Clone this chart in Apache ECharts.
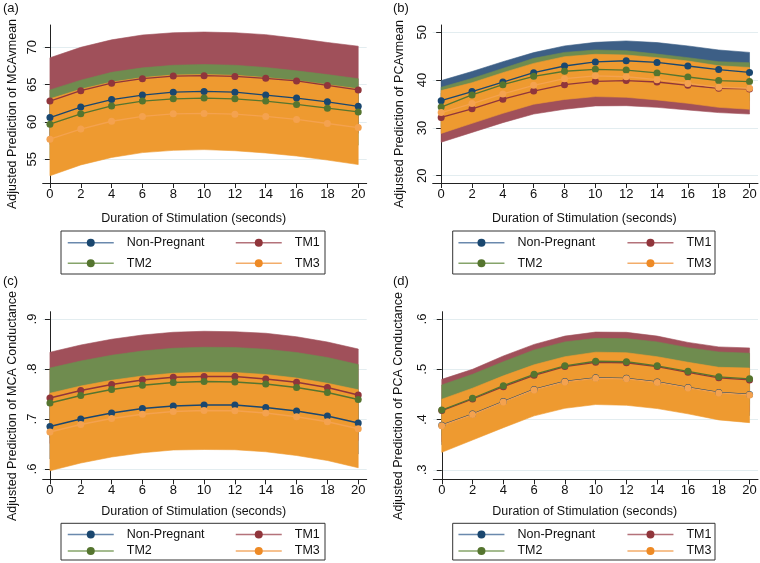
<!DOCTYPE html>
<html><head><meta charset="utf-8">
<script src="https://cdn.jsdelivr.net/npm/echarts@6/dist/echarts.min.js"></script>
<style>html,body{margin:0;padding:0;background:#fff}#c{width:760px;height:563px}</style>
</head><body><div id="c"></div>
<script>
// ---------- data ----------
const seconds = [0, 2, 4, 6, 8, 10, 12, 14, 16, 18, 20];
const xTicks = [0, 2, 4, 6, 8, 10, 12, 14, 16, 18, 20];
const groupNames = ['Non-Pregnant', 'TM1', 'TM2', 'TM3'];

// (a) MCAvmean
const aTicks = [55, 60, 65, 70];
const aNP = [60.6, 62.0, 63.0, 63.6, 64.0, 64.1, 64.0, 63.6, 63.2, 62.7, 62.1];
const aNPlo = [57.9, 59.5, 60.6, 61.3, 61.7, 61.8, 61.7, 61.3, 60.8, 60.2, 59.5];
const aNPhi = [62.9, 64.2, 65.1, 65.7, 66.1, 66.2, 66.1, 65.7, 65.3, 64.8, 64.3];
const aTM1 = [62.8, 64.2, 65.2, 65.8, 66.15, 66.2, 66.1, 65.85, 65.5, 64.9, 64.3];
const aTM1lo = [57.0, 58.4, 59.4, 60.0, 60.35, 60.4, 60.3, 60.0, 59.8, 59.2, 58.5];
const aTM1hi = [68.6, 70.0, 71.0, 71.65, 71.95, 72.05, 71.95, 71.7, 71.2, 70.65, 70.15];
const aTM2 = [59.7, 61.1, 62.15, 62.8, 63.1, 63.2, 63.1, 62.8, 62.35, 61.85, 61.35];
const aTM2lo = [55.1, 56.6, 57.65, 58.35, 58.6, 58.7, 58.6, 58.3, 57.85, 57.35, 56.9];
const aTM2hi = [64.3, 65.6, 66.65, 67.25, 67.6, 67.7, 67.6, 67.3, 66.85, 66.35, 65.8];
const aTM3 = [57.7, 59.05, 60.1, 60.75, 61.1, 61.15, 61.05, 60.75, 60.35, 59.8, 59.25];
const aTM3lo = [52.8, 54.25, 55.25, 55.9, 56.2, 56.3, 56.15, 55.85, 55.45, 54.9, 54.3];
const aTM3hi = [63.1, 64.4, 65.35, 65.95, 66.3, 66.35, 66.25, 65.95, 65.55, 65.0, 64.45];

// (b) PCAvmean
const bTicks = [20, 30, 40, 50];
const bNP = [35.7, 37.6, 39.6, 41.55, 42.95, 43.8, 44.05, 43.7, 42.95, 42.2, 41.6];
const bNPlo = [31.5, 33.4, 35.4, 37.4, 38.8, 39.7, 39.9, 39.6, 38.8, 38.1, 37.4];
const bNPhi = [39.9, 41.8, 43.85, 45.75, 47.15, 47.9, 48.2, 47.85, 47.15, 46.3, 45.8];
const bTM1 = [32.2, 34.0, 36.0, 37.7, 39.05, 39.75, 39.9, 39.6, 38.9, 38.3, 38.15];
const bTM1lo = [27.0, 29.05, 31.1, 32.9, 33.9, 34.6, 34.65, 34.3, 33.75, 33.2, 32.9];
const bTM1hi = [37.3, 38.9, 40.8, 42.4, 43.9, 44.6, 44.8, 44.5, 43.8, 42.9, 42.6];
const bTM2 = [34.35, 36.9, 39.05, 40.8, 41.85, 42.25, 42.1, 41.5, 40.65, 39.9, 39.7];
const bTM2lo = [30.2, 33.4, 35.6, 37.0, 37.9, 38.2, 38.05, 37.5, 36.6, 35.9, 35.7];
const bTM2hi = [38.5, 40.35, 42.45, 44.55, 45.8, 46.3, 46.15, 45.45, 44.7, 43.85, 43.65];
const bTM3 = [33.2, 35.1, 37.1, 38.9, 40.3, 40.9, 40.7, 40.1, 39.3, 38.5, 38.3];
const bTM3lo = [28.85, 30.95, 33.05, 34.95, 35.95, 36.55, 36.4, 35.85, 35.15, 34.3, 33.9];
const bTM3hi = [37.8, 39.45, 41.55, 43.5, 44.9, 45.4, 45.25, 44.7, 44.0, 43.0, 42.65];

// (c) MCA Conductance
const cTicks = [0.6, 0.7, 0.8, 0.9];
const cNP = [0.685, 0.700, 0.712, 0.721, 0.726, 0.728, 0.728, 0.723, 0.716, 0.706, 0.692];
const cNPlo = [0.62, 0.64, 0.65, 0.66, 0.665, 0.667, 0.667, 0.662, 0.655, 0.645, 0.63];
const cNPhi = [0.745, 0.76, 0.772, 0.78, 0.785, 0.787, 0.787, 0.783, 0.775, 0.765, 0.752];
const cTM1 = [0.742, 0.757, 0.769, 0.778, 0.7835, 0.785, 0.785, 0.780, 0.7735, 0.763, 0.748];
const cTM1lo = [0.651, 0.666, 0.678, 0.688, 0.693, 0.695, 0.695, 0.689, 0.682, 0.672, 0.657];
const cTM1hi = [0.8335, 0.848, 0.8595, 0.868, 0.8735, 0.8755, 0.8745, 0.8715, 0.8645, 0.854, 0.840];
const cTM2 = [0.732, 0.747, 0.759, 0.7675, 0.773, 0.775, 0.774, 0.770, 0.763, 0.753, 0.739];
const cTM2lo = [0.662, 0.678, 0.690, 0.699, 0.704, 0.706, 0.705, 0.70, 0.693, 0.683, 0.669];
const cTM2hi = [0.802, 0.816, 0.8275, 0.836, 0.8415, 0.8435, 0.843, 0.8395, 0.833, 0.823, 0.809];
const cTM3 = [0.674, 0.689, 0.701, 0.7095, 0.715, 0.717, 0.7165, 0.712, 0.7045, 0.6945, 0.6805];
const cTM3lo = [0.5965, 0.612, 0.624, 0.6325, 0.638, 0.639, 0.6385, 0.6345, 0.627, 0.617, 0.6025];
const cTM3hi = [0.7515, 0.766, 0.7775, 0.786, 0.7915, 0.7935, 0.793, 0.789, 0.782, 0.7715, 0.7585];

// (d) PCA Conductance
const dTicks = [0.3, 0.4, 0.5, 0.6];
const dNP = [0.389, 0.411, 0.436, 0.460, 0.476, 0.483, 0.482, 0.475, 0.464, 0.454, 0.450];
const dNPlo = [0.35, 0.37, 0.395, 0.42, 0.437, 0.445, 0.444, 0.436, 0.424, 0.412, 0.408];
const dNPhi = [0.428, 0.451, 0.477, 0.500, 0.515, 0.521, 0.52, 0.514, 0.504, 0.496, 0.492];
const dTM1 = [0.418, 0.441, 0.4655, 0.488, 0.5055, 0.514, 0.513, 0.5055, 0.494, 0.483, 0.479];
const dTM1lo = [0.356, 0.382, 0.405, 0.427, 0.445, 0.454, 0.453, 0.445, 0.434, 0.422, 0.416];
const dTM1hi = [0.480, 0.500, 0.5265, 0.5495, 0.566, 0.574, 0.5735, 0.566, 0.5535, 0.5445, 0.5425];
const dTM2 = [0.419, 0.4425, 0.4675, 0.490, 0.507, 0.516, 0.515, 0.507, 0.496, 0.485, 0.481];
const dTM2lo = [0.369, 0.395, 0.42, 0.441, 0.46, 0.47, 0.469, 0.46, 0.449, 0.436, 0.43];
const dTM2hi = [0.469, 0.490, 0.515, 0.5385, 0.5545, 0.5615, 0.561, 0.5545, 0.543, 0.5345, 0.532];
const dTM3 = [0.388, 0.410, 0.435, 0.459, 0.475, 0.482, 0.481, 0.474, 0.463, 0.453, 0.449];
const dTM3lo = [0.335, 0.3595, 0.384, 0.4075, 0.4225, 0.43, 0.4285, 0.422, 0.4115, 0.3995, 0.394];
const dTM3hi = [0.4405, 0.4625, 0.487, 0.509, 0.525, 0.534, 0.533, 0.525, 0.514, 0.504, 0.5025];

// ---------- styling ----------
const FONT = 'Liberation Sans, Arial, Helvetica, sans-serif';
const lineColors = ['#1a476f', '#90353b', '#55752f', '#f4a24f'];
const bandColors = ['#3d5f86', '#a0505a', '#6f8c4f', '#ee9a30'];
const legendLineColors = ['#6a89ad', '#b4727a', '#86a46a', '#f3ad6a'];
const legendMarkColors = ['#1a476f', '#90353b', '#55752f', '#ee8a25'];

const panels = [
  { tag: '(a)', ytitle: 'Adjusted Prediction of MCAvmean', ticks: aTicks,
    grid: { left: 42.7, top: 25, width: 324, height: 158 }, xmin: -0.47, xmax: 20.55, ymin: 51.83, ymax: 72.99,
    means: [aNP, aTM1, aTM2, aTM3], los: [aNPlo, aTM1lo, aTM2lo, aTM3lo], his: [aNPhi, aTM1hi, aTM2hi, aTM3hi],
    fmt: v => String(v), tagPos: [3, 8], ytPos: [13, 114], nameGap: 29.5,
    box: [61, 231, 264, 43], legTop: 236.3, legGap: 7.5, legL: 67, legR: 235 },
  { tag: '(b)', ytitle: 'Adjusted Prediction of PCAvmean', ticks: bTicks,
    grid: { left: 432.7, top: 25, width: 325.3, height: 158 }, xmin: -0.55, xmax: 20.55, ymin: 18.47, ymax: 51.53,
    means: [bNP, bTM1, bTM2, bTM3], los: [bNPlo, bTM1lo, bTM2lo, bTM3lo], his: [bNPhi, bTM1hi, bTM2hi, bTM3hi],
    fmt: v => String(v), tagPos: [393, 8], ytPos: [400, 114], nameGap: 29.5,
    box: [452.7, 231, 262.3, 43], legTop: 236.3, legGap: 7.5, legL: 457.7, legR: 626.7 },
  { tag: '(c)', ytitle: 'Adjusted Prediction of MCA Conductance', ticks: cTicks,
    grid: { left: 42.7, top: 311.7, width: 324, height: 167.6 }, xmin: -0.47, xmax: 20.55, ymin: 0.5794, ymax: 0.9146,
    means: [cNP, cTM1, cTM2, cTM3], los: [cNPlo, cTM1lo, cTM2lo, cTM3lo], his: [cNPhi, cTM1hi, cTM2hi, cTM3hi],
    fmt: v => v.toFixed(1).replace(/^0/, ''), tagPos: [3, 281], ytPos: [12.5, 406], nameGap: 26,
    box: [61, 523.3, 264, 36.7], legTop: 528, legGap: 3.5, legL: 67, legR: 235 },
  { tag: '(d)', ytitle: 'Adjusted Prediction of PCA Conductance', ticks: dTicks,
    grid: { left: 433.3, top: 311.7, width: 324.7, height: 167.6 }, xmin: -0.55, xmax: 20.55, ymin: 0.2814, ymax: 0.6145,
    means: [dNP, dTM1, dTM2, dTM3], los: [dNPlo, dTM1lo, dTM2lo, dTM3lo], his: [dNPhi, dTM1hi, dTM2hi, dTM3hi],
    fmt: v => v.toFixed(1).replace(/^0/, ''), tagPos: [393, 281], ytPos: [399, 406], nameGap: 26,
    box: [452.7, 523.3, 262.3, 36.7], legTop: 528, legGap: 3.5, legL: 457.7, legR: 626.7 }
];

const grids = [], xAxes = [], yAxes = [], series = [], legends = [], graphics = [];
const axisCol = '#222';

panels.forEach((p, g) => {
  grids.push(Object.assign({ containLabel: false }, p.grid));
  xAxes.push({
    type: 'value', gridIndex: g, min: p.xmin, max: p.xmax,
    name: 'Duration of Stimulation (seconds)', nameLocation: 'middle', nameGap: p.nameGap,
    nameTextStyle: { fontFamily: FONT, fontSize: 12.5, color: '#111', padding: [0, 22, 0, 0] },
    axisLine: { onZero: false, lineStyle: { color: axisCol, width: 1 } },
    axisTick: { customValues: xTicks, length: 5, lineStyle: { color: axisCol } },
    axisLabel: { customValues: xTicks, margin: 5, fontFamily: FONT, fontSize: 13, color: '#111' },
    splitLine: { show: false }
  });
  yAxes.push({
    type: 'value', gridIndex: g, min: p.ymin, max: p.ymax,
    axisLine: { show: true, lineStyle: { color: axisCol, width: 1 } },
    axisTick: { show: true, customValues: p.ticks, length: 5, lineStyle: { color: axisCol } },
    axisLabel: { customValues: p.ticks, rotate: 90, margin: 4, fontFamily: FONT, fontSize: 13, color: '#111', formatter: p.fmt },
    splitLine: { show: true, lineStyle: { color: '#e3edf0', width: 1 } }
  });
  // confidence bands
  for (let k = 0; k < 4; k++) {
    const lo = p.los[k], hi = p.his[k], col = bandColors[k];
    series.push({
      type: 'custom', xAxisIndex: g, yAxisIndex: g, z: 1, silent: true,
      data: seconds.map((x, i) => [x, lo[i], hi[i]]),
      encode: { x: 0, y: [1, 2] },
      renderItem: (params, api) => {
        if (params.dataIndex !== 0) return;
        const pts = [];
        for (let i = 0; i < seconds.length; i++) pts.push(api.coord([seconds[i], hi[i]]));
        for (let i = seconds.length - 1; i >= 0; i--) pts.push(api.coord([seconds[i], lo[i]]));
        return { type: 'polygon', shape: { points: pts }, style: { fill: col, stroke: col, lineWidth: 0.6 } };
      }
    });
  }
  // prediction lines
  for (let k = 0; k < 4; k++) {
    series.push({
      type: 'line', name: groupNames[k], xAxisIndex: g, yAxisIndex: g, z: 3,
      data: seconds.map((x, i) => [x, p.means[k][i]]),
      symbol: 'circle', symbolSize: 7, showAllSymbol: true,
      lineStyle: { color: lineColors[k], width: 1.3 },
      itemStyle: { color: lineColors[k] },
      animation: false
    });
  }
  // legend box + legends
  graphics.push({ type: 'rect', z: 0, shape: { x: p.box[0], y: p.box[1], width: p.box[2], height: p.box[3] },
    style: { fill: 'transparent', stroke: '#333', lineWidth: 1 } });
  const legBase = { orient: 'vertical', top: p.legTop, height: 40, padding: 0, itemWidth: 46, itemHeight: 10,
    itemGap: p.legGap,
    selectedMode: false, textStyle: { fontFamily: FONT, fontSize: 12.5, color: '#111', padding: [0, 0, 0, 8] } };
  const item = k => ({ name: groupNames[k], lineStyle: { color: legendLineColors[k], width: 1.5 },
    itemStyle: { color: legendMarkColors[k] } });
  legends.push(Object.assign({}, legBase, { left: p.legL, data: [item(0), item(2)] }));
  legends.push(Object.assign({}, legBase, { left: p.legR, data: [item(1), item(3)] }));
  // tags & y titles
  graphics.push({ type: 'text', x: p.tagPos[0], y: p.tagPos[1],
    style: { text: p.tag, font: '13px ' + FONT, fill: '#111', textAlign: 'left', textVerticalAlign: 'middle' } });
  graphics.push({ type: 'text', x: p.ytPos[0], y: p.ytPos[1], rotation: Math.PI / 2,
    style: { text: p.ytitle, font: '12.5px ' + FONT, fill: '#111', textAlign: 'center', textVerticalAlign: 'middle' } });
});

const chart = echarts.init(document.getElementById('c'), null, { renderer: 'canvas' });
chart.setOption({
  backgroundColor: '#ffffff',
  animation: false,
  grid: grids, xAxis: xAxes, yAxis: yAxes, series: series, legend: legends,
  graphic: { elements: graphics }
});
</script>
</body></html>
